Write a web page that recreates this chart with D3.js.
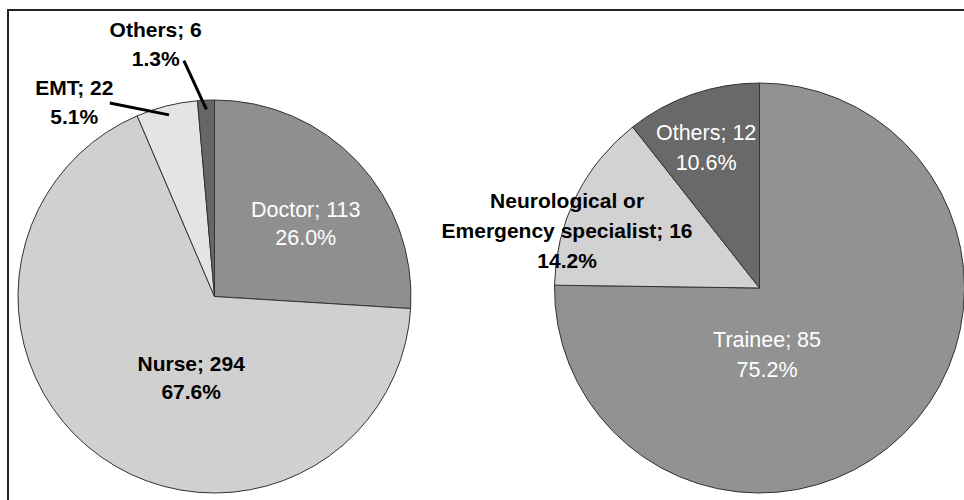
<!DOCTYPE html>
<html>
<head>
<meta charset="utf-8">
<script src="https://cdn.jsdelivr.net/npm/d3@7"></script>
<style>
  html, body { margin: 0; padding: 0; background: #fff; }
  svg { display: block; }
  text { font-family: "Liberation Sans", Arial, sans-serif; }
</style>
</head>
<body>
<svg id="chart" width="964" height="500"></svg>
<script>
// data
var leftNames = ["Doctor", "Nurse", "EMT", "Others"];
var leftValues = [113, 294, 22, 6];
var leftPercents = ["26.0%", "67.6%", "5.1%", "1.3%"];

var rightNames = ["Trainee", "Neurological or\nEmergency specialist", "Others"];
var rightValues = [85, 16, 12];
var rightPercents = ["75.2%", "14.2%", "10.6%"];

// layout and styles
var charts = [
  {
    names: leftNames, values: leftValues, percents: leftPercents,
    cx: 214.5, cy: 296.5, r: 196.5, lineH: 28.5,
    fills: ["#8f8f8f", "#d0d0d0", "#e4e4e4", "#666666"],
    textFills: ["#fff", "#000", "#000", "#000"],
    // label position: [angle in degrees clockwise from north, fraction of radius]
    labelPos: [[51.3, 0.595], [196, 0.43], [324.2, 1.22], [346.9, 1.32]],
    // leader start for outside labels, null when label sits inside
    leaders: [null, null, [331.6, 1.12], [352.6, 1.21]]
  },
  {
    names: rightNames, values: rightValues, percents: rightPercents,
    cx: 759.5, cy: 288, r: 205, lineH: 30,
    fills: ["#929292", "#d2d2d2", "#696969"],
    textFills: ["#fff", "#000", "#fff"],
    labelPos: [[173.5, 0.325], [286.7, 0.98], [339.2, 0.733]],
    leaders: [null, null, null]
  }
];

var svg = d3.select("#chart");

// frame
svg.append("path")
  .attr("d", "M8,500V10H964")
  .attr("fill", "none")
  .attr("stroke", "#222")
  .attr("stroke-width", 2);

function polar(c, deg, frac) {
  var a = deg * Math.PI / 180;
  return [c.cx + Math.sin(a) * c.r * frac, c.cy - Math.cos(a) * c.r * frac];
}

charts.forEach(function(c) {
  var pie = d3.pie().sort(null).value(function(d) { return d; });
  var arcs = pie(c.values);
  var arc = d3.arc().innerRadius(0).outerRadius(c.r);
  var edgeArc = d3.arc().innerRadius(c.r * 0.953).outerRadius(c.r * 0.953);

  var g = svg.append("g")
    .attr("transform", "translate(" + c.cx + "," + c.cy + ")");

  g.selectAll("path.slice")
    .data(arcs)
    .enter().append("path")
      .attr("class", "slice")
      .attr("d", arc)
      .attr("fill", function(d, i) { return c.fills[i]; })
      .attr("stroke", "#333")
      .attr("stroke-width", 1);

  // leader lines for outside labels
  arcs.forEach(function(d, i) {
    if (!c.leaders[i]) return;
    var s = polar(c, c.leaders[i][0], c.leaders[i][1]);
    var e = edgeArc.centroid(d);
    svg.append("line")
      .attr("x1", s[0]).attr("y1", s[1])
      .attr("x2", c.cx + e[0]).attr("y2", c.cy + e[1])
      .attr("stroke", "#000")
      .attr("stroke-width", 3);
  });

  // labels
  arcs.forEach(function(d, i) {
    var lines = c.names[i].split("\n");
    lines[lines.length - 1] += "; " + c.values[i];
    lines.push(c.percents[i]);
    var p = polar(c, c.labelPos[i][0], c.labelPos[i][1]);
    var white = c.textFills[i] === "#fff";
    var y0 = p[1] - (lines.length - 1) * c.lineH / 2 + 7.5;
    var t = svg.append("text")
      .attr("text-anchor", "middle")
      .attr("fill", c.textFills[i])
      .style("font-size", white ? "21.5px" : "21px")
      .style("font-weight", white ? "normal" : "bold");
    lines.forEach(function(l, k) {
      t.append("tspan")
        .attr("x", p[0])
        .attr("y", y0 + k * c.lineH)
        .text(l);
    });
  });
});
</script>
</body>
</html>
